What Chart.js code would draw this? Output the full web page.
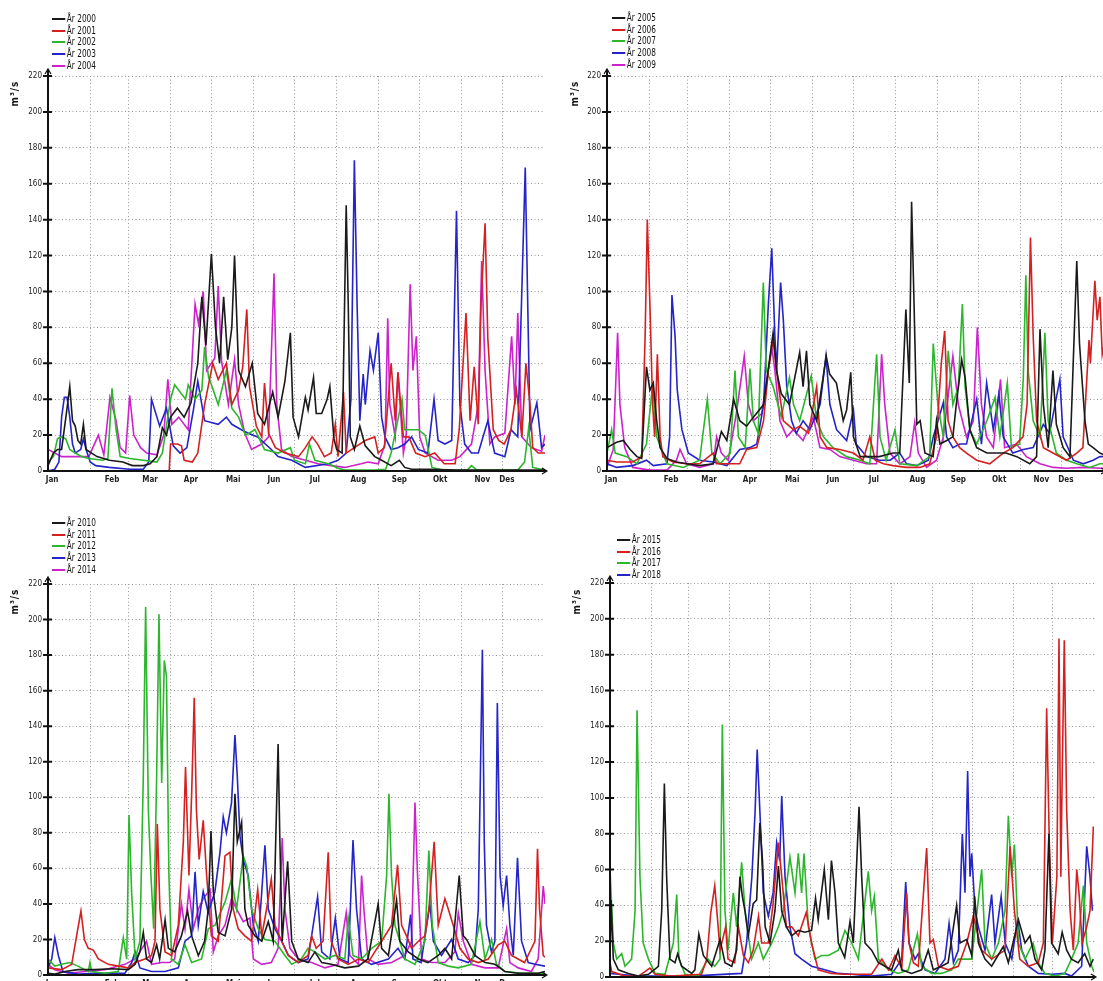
<!DOCTYPE html>
<html>
<head>
<meta charset="utf-8">
<script src="https://cdn.jsdelivr.net/npm/chart.js@4.4.0/dist/chart.umd.min.js"></script>
<style>
  body { margin: 0; width: 1103px; height: 981px; overflow: hidden; background: #fff; position: relative;
         font-family: "Liberation Sans Narrow", "DejaVu Sans Condensed", "Liberation Sans", sans-serif; }
  canvas { position: absolute; }
  .legend { position: absolute; font-size: 10.5px; color: #111; transform: scaleX(0.78); transform-origin: 0 0; }
  .legend div { height: 11.7px; line-height: 11.7px; white-space: nowrap; }
  .legend span { display: inline-block; width: 17px; height: 2px; vertical-align: middle; margin-right: 2px; }
  .unit { position: absolute; font-size: 10px; font-weight: bold; color: #111; transform: rotate(-90deg); white-space: nowrap; letter-spacing: 1px; }
</style>
</head>
<body>
<script>
// Månedsakse (dag i året)
const monthNames = ["Jan", "Feb", "Mar", "Apr", "Mai", "Jun", "Jul", "Aug", "Sep", "Okt", "Nov", "Des"];
const labelDays = [3, 47, 75, 105, 136, 166, 196, 228, 258, 288, 319, 337];
const monthStarts = [31, 59, 90, 120, 151, 181, 212, 243, 273, 304, 334];
const yTicks = [0, 20, 40, 60, 80, 100, 120, 140, 160, 180, 200, 220];

// Vannføring m3/s, [dag, verdi]
const flow2000 = [[0,3],[4,10],[7,12],[10,12],[14,35],[16,47],[18,28],[20,25],[22,17],[24,15],[26,26],[28,12],[32,10],[36,8],[45,6],[55,5],[62,3],[70,3],[75,4],[80,8],[84,24],[87,20],[90,30],[95,35],[100,30],[105,38],[110,60],[113,97],[116,70],[120,121],[123,80],[126,60],[129,97],[132,62],[135,80],[137,120],[140,56],[145,47],[150,60],[154,32],[159,26],[165,44],[169,30],[174,50],[178,77],[180,30],[184,19],[189,41],[191,34],[195,52],[197,32],[201,32],[205,40],[207,47],[210,18],[212,12],[216,10],[219,148],[220.5,93],[222,19],[225,12],[229,25],[233,14],[240,8],[245,6],[252,3],[258,6],[262,2],[267,1],[280,1],[300,0.5],[330,0.5],[365,0.5]];
const flow2001 = [[0,0],[30,0],[60,0],[89,0],[90,15],[95,15],[98,14],[100,6],[106,5],[110,10],[115,37],[121,60],[125,51],[131,60],[135,37],[140,45],[143,58],[146,90],[148,47],[153,25],[157,19],[159,49],[162,21],[167,13],[174,10],[184,8],[189,13],[194,19],[198,15],[203,8],[208,10],[211,26],[213,8],[217,44],[219,10],[225,13],[233,17],[240,19],[242.5,10],[247,13],[252,60],[255,28],[257,55],[261,19],[265,19],[270,10],[277,8],[284,10],[291,4],[299,4],[302,23],[307,88],[310,28],[313,58],[316,26],[318,93],[321,138],[323,74],[327,23],[331,17],[335,15],[340,23],[344,45],[348,19],[351,60],[354,37],[356,13],[360,10],[365,10]];
const flow2002 = [[0,5],[4,8],[7,18],[10,19],[13,18],[16,12],[20,10],[25,8],[30,7],[40,6],[44,7],[47,46],[50,23],[53,8],[60,7],[70,6],[80,5],[84,10],[88,30],[90,40],[93,48],[96,45],[101,40],[103,48],[108,40],[113,45],[115,69],[118,52],[120,48],[125,37],[131,56],[135,35],[140,30],[145,20],[152,23],[159,12],[169,10],[178,13],[181,6],[189,4],[192,15],[196,6],[206,4],[213,1.5],[218,0.5],[240,0.5],[248,1],[252,10],[260,40],[262,23],[272,23],[277,20],[282,2],[290,0.5],[308,0.5],[311,3],[315,0.5],[345,0.5],[350,5],[353,24],[356,2],[365,0.5]];
const flow2003 = [[0,0],[5,1],[8,5],[10,30],[12,41],[14,41],[16,30],[18,15],[20,10],[24,12],[26,18],[28,12],[31,5],[35,3],[45,2],[60,1],[70,1],[74,5],[76,40],[80,30],[82,25],[87,35],[92,14],[97,10],[102,13],[107,35],[110,50],[115,28],[125,26],[131,30],[135,26],[142,23],[147,21],[154,19],[164,12],[169,8],[179,6],[189,2],[206,4],[213,6],[219,10],[222.5,40],[225,173],[227,93],[229,28],[231.5,54],[233,37],[236.5,67],[239,56],[242.5,77],[245,30],[247.5,19],[252,12],[257,13],[262,15],[267,19],[272,12],[279,10],[283.5,40],[286.5,17],[291.5,15],[296.5,17],[300,145],[302.5,37],[306,15],[311,10],[316,10],[323,28],[328,10],[335.5,8],[340,23],[345,19],[350.5,169],[354,23],[359,38],[362.5,13],[365,15]];
const flow2004 = [[0,12],[5,10],[10,8],[20,8],[30,8],[37,20],[41,9],[45.5,41],[50,28],[53,13],[57,10],[60,42],[63,20],[68,13],[72.5,10],[80,9],[85,20],[88,51],[91,26],[96,30],[103,23],[108,93],[110.5,82],[114,100],[116.5,56],[122.5,63],[125,103],[127.5,61],[132.5,37],[137,62],[140,37],[144.5,21],[149.5,12],[157,15],[162,19],[166,110],[168,37],[171.5,12],[179,8],[189,6],[198.5,4],[208,3],[218,2],[230,4],[235,5],[242.5,4],[247.5,15],[249.5,85],[251,37],[255,19],[257,55],[261,10],[263,19],[266,104],[268,56],[270.5,75],[273,19],[277,10],[286.5,6],[296.5,6],[302.5,8],[311,15],[316,37],[318.5,117],[321,56],[324.5,15],[328,19],[335.5,21],[340.5,75],[343,37],[345,88],[348,19],[355,13],[362.5,11],[365,20]];

const flow2005 = [[0,13],[7,16],[12,17],[17,12],[22,8],[25.5,7],[29,58],[31.5,45],[34,49],[36.5,28],[39,13],[44,7],[51,5],[58.5,4],[68,3],[78,4],[84,22],[88,17],[93,40],[97.5,28],[102.5,25],[107.5,30],[115,37],[122,77],[124.5,56],[128,43],[134,37],[141.5,66],[144,47],[146.5,67],[149,37],[154,28],[161,64],[163.5,54],[168.5,49],[173.5,28],[176,34],[179,55],[181,19],[186,8],[200,8],[210,10],[215,10],[219.5,90],[222,49],[223.7,150],[225.5,93],[227.5,26],[230,28],[233.5,10],[239.5,8],[242,28],[244.5,15],[249.5,17],[254,19],[256.5,37],[260.5,62],[263,52],[266.5,23],[271.5,13],[279,10],[293,10],[301,8],[310.5,4],[315.5,8],[318,79],[320.5,37],[324,13],[327.5,56],[330,26],[335,13],[340,8],[345,117],[347,71],[351,28],[353.5,15],[357,13],[362,10],[365,9]];
const flow2006 = [[0,6],[7,5],[19,5],[25.5,8],[28,75],[29.6,140],[31.5,93],[33.5,37],[35,19],[37,65],[39,19],[41,8],[48.5,5],[58.5,4],[68,4],[78,10],[80.5,4],[97.5,4],[102.5,12],[110,13],[115,28],[118.5,56],[122,73],[126,47],[129.5,28],[137,23],[141.5,25],[148,21],[154,47],[156.5,19],[161.5,13],[171,12],[181,10],[188,6],[193,19],[197,6],[203,4],[210,3],[220,2],[230,2],[237,4],[242,19],[245.5,60],[248,78],[250.5,28],[254,19],[259,13],[264,10],[271.5,6],[281,4],[291,10],[298,13],[305.5,19],[308.5,37],[311,130],[313,75],[315.5,28],[320.5,13],[327.5,10],[337.5,6],[345,10],[349.5,13],[354,73],[355,60],[358.3,106],[360,84],[362,97],[363.7,65],[365,70]];
const flow2007 = [[0,10],[3.4,23],[6,10],[14.5,8],[22,4],[29,15],[33.5,48],[36.5,19],[44,4],[56,2],[68,6],[73.7,40],[77,10],[83,4],[90.5,10],[94,56],[96.5,19],[101.5,13],[105,57],[107.5,28],[111,21],[114.8,105],[117,56],[122,47],[128,30],[134,52],[137,37],[141.5,28],[150,53],[154,28],[159,19],[166,13],[176,8],[186,6],[193,4],[198,65],[200.5,19],[205,6],[211.5,23],[215,4],[227.5,3],[237,8],[239.6,71],[243,37],[247,19],[250.6,67],[254,37],[258,47],[261,93],[263,47],[266.5,23],[271.5,15],[279,28],[285,41],[288.5,19],[294,49],[297,13],[303,15],[305.7,51],[307.6,109],[309.3,56],[313,28],[318,19],[321.6,77],[324,28],[330,10],[337.5,6],[345,4],[354.5,2],[362,4],[365,4]];
const flow2008 = [[0,4],[7,2],[19,3],[29,6],[34,3],[44,4],[46,19],[47.7,98],[50,75],[51.6,45],[55,23],[59.7,10],[68,6],[78,5],[88,3],[97.5,12],[105,13],[110,15],[115,37],[118.5,93],[121,124],[123.3,75],[124.6,56],[127.5,105],[129.5,84],[132,47],[135.6,28],[139,21],[144,28],[149,23],[156.5,37],[160.8,64],[163.7,37],[168.6,23],[176,17],[181,34],[183,15],[190.6,8],[200,6],[208,6],[215,10],[220,4],[227.5,3],[236,6],[239.6,19],[247,38],[249.4,19],[254,13],[259,15],[264,15],[271.5,40],[275,15],[278.8,49],[283.7,23],[287.8,43],[291,19],[298,10],[305.7,12],[313,13],[320.4,26],[325,21],[332.6,51],[335,19],[342.5,6],[349.7,4],[357,6],[362,8],[365,8]];
const flow2009 = [[0,2],[4.6,12],[7.8,77],[9.5,37],[13,13],[19,2],[31.5,0.5],[44,0.5],[51,6],[53.6,12],[58.5,4],[68,2],[78,4],[80.5,19],[84,10],[89,6],[95,32],[100.8,64],[103.8,37],[107.4,28],[113.6,32],[117,49],[121,69],[123.3,56],[127,28],[132,19],[136.8,23],[144,17],[151.5,30],[156.4,13],[163.7,12],[171,8],[181,6],[190.6,4],[198,4],[201.7,65],[204,37],[207.8,10],[215,4],[222.5,8],[226,27],[228.6,10],[234.7,2],[242,6],[247,19],[254,64],[258,37],[264,19],[269,28],[272,80],[275,37],[278.8,19],[283.7,13],[289,51],[292,13],[300.8,15],[308,8],[318,4],[327.7,2],[337.5,1.5],[349.7,2],[362,1.5],[365,1.5]];

const flow2010 = [[0,1],[5,0.5],[12.5,2],[22,3],[34.5,3],[46.7,3.5],[59,3],[64,6],[67.5,13],[70,24],[72.4,9],[76,7],[79.8,17],[82,9],[86,31],[88.4,15],[93,13],[98,22],[102.5,36],[105.5,22],[110.4,11],[115,19],[117.7,37],[119.7,81],[121.4,47],[125,24],[130,22],[134.8,37],[137.3,102],[139,75],[142.2,86],[144.6,37],[147,28],[152,22],[157,19],[161.8,30],[165.4,19],[169,130],[170.3,75],[172,19],[176,64],[179,19],[183.8,9],[191,7],[196,13],[201,7],[208,6],[218,4],[228,5],[235,9],[242.5,40],[245,15],[250,11],[256,42],[258.4,19],[264.6,13],[272,9],[279,7],[286.6,11],[291.5,15],[296.4,9],[302,56],[305,22],[307.4,20],[313.5,11],[321,7],[328.2,6],[335.5,2],[345,1],[360,1],[365,2]];
const flow2011 = [[0,4],[10,3],[17.4,6],[21,22],[24.2,36],[26.7,20],[29.6,15],[33.3,14],[37,9],[44.3,6],[51.6,5],[59,4],[64,7],[71.2,9],[76,11],[78.6,19],[80.3,85],[82.2,37],[86,13],[90.8,11],[95.7,28],[99.4,75],[101,117],[103.5,56],[105.5,102],[107.4,156],[109,93],[111,65],[114,87],[116.5,56],[120,22],[125,19],[130,67],[133.6,69],[136,37],[139.7,26],[144.6,22],[149.5,19],[154,48],[157,22],[160.5,37],[164,54],[166.7,28],[171.6,19],[176.5,11],[183.8,7],[191,11],[193.6,22],[197,15],[202,19],[205.8,69],[208,19],[213,9],[220.5,6],[228,9],[235,7],[240,13],[245,19],[252.3,28],[256.7,62],[259.7,28],[263.3,22],[267,15],[272,19],[276.8,22],[279.7,37],[283.6,75],[286.6,28],[291.5,43],[294,37],[297.6,28],[302.5,15],[308.6,9],[316,7],[323.3,9],[330.6,17],[335.5,19],[340.4,11],[350,7],[357.6,19],[359.5,71],[361,37],[363.7,11],[365,10]];
const flow2012 = [[0,9],[5,5],[10,6],[16,7],[22,5],[29.6,2],[30.8,7],[32,2],[41.8,1],[51.6,2],[55.3,21],[57.8,9],[59.5,90],[61.4,47],[64,9],[67.5,19],[70,112],[71.7,207],[73.7,93],[75.6,56],[77.6,26],[79.8,112],[81.5,203],[83.5,108],[85.4,177],[87,168],[88.8,56],[90.8,9],[95.7,6],[100.6,17],[105.5,7],[112.8,9],[117.7,26],[122.6,28],[130,41],[134.8,54],[138.5,37],[143.4,67],[146,61],[149.5,37],[154.4,26],[159.3,20],[166.7,19],[174,11],[179,6],[186,9],[191,15],[196,13],[203.4,9],[210.7,11],[218,9],[220.5,32],[224,11],[230.3,9],[237.6,15],[245,19],[248.7,56],[250.4,102],[252.3,56],[254.8,28],[258.4,19],[262,9],[269.5,6],[276.8,19],[279.7,70],[282.2,28],[286.6,7],[294,5],[301.3,4],[311,6],[317.2,30],[320.9,9],[325.7,20],[329.4,6],[335.5,2],[347.8,1],[365,1]];
const flow2013 = [[0,4],[2.7,9],[5,21],[7.6,11],[11,2],[22,0.5],[34.5,1],[46.7,1],[56.5,1],[61.4,7],[64,13],[67.5,4],[76,2],[86,2],[95.7,4],[100.6,19],[105.5,22],[108,58],[110.4,28],[114,47],[117.7,35],[122.6,47],[126.3,69],[128.7,89],[131,80],[134.8,97],[137.3,135],[139,112],[141,78],[143.4,65],[147,56],[150.8,28],[154.4,19],[157,47],[159.3,73],[161.8,37],[166.7,26],[171.6,19],[176.5,11],[183.8,7],[191,9],[194.8,28],[198,44],[201,13],[207,9],[211,32],[214.4,9],[220.5,7],[224,76],[226.6,37],[230.3,9],[237.6,6],[250,9],[257,15],[262,9],[266.3,34],[268,9],[274,7],[280.5,40],[283,19],[289,11],[296.4,20],[301.3,9],[308.6,7],[313.5,11],[316,37],[319,183],[320.4,75],[322,28],[325.7,13],[328.2,19],[330,153],[332,56],[334.3,39],[336.8,56],[339.2,28],[341.7,11],[344.8,66],[347.8,19],[352.7,7],[357.6,6],[365,5]];
const flow2014 = [[0,6],[5,3],[15,1],[27,2],[41.8,3],[56.5,6],[64,9],[72.4,19],[76,6],[83.5,7],[89,7],[93,9],[98,40],[100.6,26],[103.5,48],[106.7,26],[110.4,37],[114,43],[119,48],[121.4,13],[125,22],[130,28],[134.8,43],[138.5,37],[143.4,30],[148.3,32],[150.8,9],[157,6],[164,7],[169,15],[172,77],[174,37],[177.7,15],[183.8,9],[193.6,7],[203.4,4],[213,6],[219,35],[221.7,11],[228,6],[230.3,56],[232,37],[235,9],[242.5,6],[252.3,7],[262,11],[267,19],[269.5,97],[271.4,56],[274.4,9],[281.7,7],[291.5,7],[298.8,13],[301.3,35],[305,19],[311,6],[321,4],[330.6,4],[336.8,26],[339.2,7],[345.3,4],[355,2],[360,9],[363.7,50],[365,40]];

const flow2015 = [[0,8],[0.8,43],[2.5,10],[6.3,4],[13.8,2],[21.4,0.5],[29,1.5],[36.5,6],[39,37],[41,108],[42.7,56],[45.2,10],[49,8],[51,13],[54,6],[61.6,2],[64,4],[67,24],[70.4,12],[76.7,6],[83,21],[86.7,8],[91.8,6],[95.5,15],[98,56],[99.8,45],[101.8,37],[104.3,23],[108,41],[110.6,43],[113,86],[115,65],[117,28],[120.7,19],[124.4,37],[127,62],[129.5,37],[133,28],[137,23],[142,26],[147,25],[152,26],[155,44],[157,32],[161.6,60],[164.7,32],[167,65],[169.7,47],[172.2,19],[177,11],[181,31],[183.5,19],[187.8,95],[189.8,56],[192.3,19],[197.3,15],[202.4,8],[207.4,6],[212.4,4],[217.4,15],[220,4],[227.5,2],[235,4],[240,15],[243.8,4],[250,6],[255,8],[261.4,40],[264,19],[269,21],[272.8,12],[275,45],[277.8,19],[282.8,10],[287.8,6],[296.6,17],[300.4,8],[308,32],[313,19],[316.7,23],[320.5,10],[325.5,4],[328,15],[331,80],[333,19],[338,13],[341,25],[344.4,15],[348,10],[353,8],[358,13],[362,6],[364.5,10]];
const flow2016 = [[0,8],[1.3,3],[11.3,0.5],[21.4,0.5],[26.4,3],[30,5],[34,1.5],[46.5,0.5],[69,1.5],[73,10],[76,36],[79,51],[83,15],[87.2,28],[89,10],[94,8],[96.8,28],[100.6,12],[104.3,8],[108,15],[112,34],[114.4,19],[119.4,19],[123,41],[127,75],[129.5,56],[133,28],[137,28],[142,23],[148,36],[152,19],[157,4],[167,2],[177,1.5],[197.3,1.5],[205,10],[210,4],[215,12],[220,5],[223.7,47],[225.5,19],[228.8,8],[232.5,6],[238.8,72],[241.3,19],[243.8,21],[247.6,6],[255,4],[262.7,6],[269,19],[274,34],[280.3,15],[287.8,10],[297.9,15],[301.7,73],[305,37],[309,10],[315.5,6],[323,8],[326.8,19],[329.3,150],[331.3,75],[333.6,19],[337,56],[338.6,189],[340,56],[341,112],[342.6,188],[344.4,93],[347,37],[349.4,15],[352,60],[353.7,47],[356,19],[359.5,28],[362,37],[364.5,84]];
const flow2017 = [[0,60],[2.5,19],[5,10],[8.8,13],[11.3,6],[16.3,10],[18.9,37],[20.4,149],[22.6,56],[25,19],[29,10],[34,2],[41.5,1.5],[47.8,19],[50.3,46],[52,10],[56.6,1.5],[66.6,0.5],[74,10],[79,6],[83,10],[84.7,141],[86.7,37],[89,15],[93,47],[95.5,28],[99.3,64],[101.8,37],[106.8,10],[111.9,19],[115.6,10],[122,19],[127,28],[130.7,37],[135.7,67],[139.5,47],[142,69],[144.5,47],[146.3,69],[149.6,28],[154.6,10],[159.6,12],[164.7,12],[172.2,15],[177.2,26],[182.3,19],[187.3,10],[194.8,59],[197.3,37],[199.3,45],[202.4,10],[210,4],[217.4,2],[225,4],[231.8,24],[235,6],[242.6,2],[250,2],[257.7,4],[262.7,10],[272.8,10],[280.3,60],[282.8,19],[287.8,10],[292.9,19],[297.9,37],[300.4,90],[302.9,56],[305,74],[308,19],[313,10],[319,19],[323,8],[328,2],[335.6,0.5],[343,2],[348,10],[353,19],[357,51],[359.5,19],[363.3,6],[365,3]];
const flow2018 = [[0,2],[6.3,1.5],[21.4,0.5],[60,0.5],[99.3,2],[103,19],[107,56],[109.4,92],[111,127],[113,93],[115.6,47],[119.4,34],[123,47],[125.7,75],[128,65],[129.5,101],[132,56],[135.7,28],[139.5,13],[144.5,10],[152,6],[162,4],[172,2],[182,1.5],[197.3,0.5],[212.4,1.5],[220,10],[223,53],[225.5,19],[230,10],[232.5,13],[237.6,4],[245,2],[252.6,10],[255.7,30],[259,8],[262.7,15],[265.7,80],[267.7,47],[269.7,115],[271.5,56],[272.8,69],[275.3,37],[277.8,28],[282.8,15],[287.8,46],[290.3,19],[295,45],[298,19],[303,10],[307.4,32],[310.5,15],[315.5,6],[323,2],[333,1.5],[343,2],[348,0.5],[355.7,6],[359.5,73],[362,56],[363.8,37]];

const colors = ["#1a1a1a", "#d42020", "#2cb62c", "#2424c8", "#cc22cc"];

// panel-plassering på siden
const panels = [
    { years: [2000, 2001, 2002, 2003, 2004], series: [flow2000, flow2001, flow2002, flow2003, flow2004],
      left: 0, top: 0, w: 560, h: 505, axisX: 48, right: 545, plotTop: 76, plotBottom: 471,
      legend: [52, 13], unit: [15, 93] },
    { years: [2005, 2006, 2007, 2008, 2009], series: [flow2005, flow2006, flow2007, flow2008, flow2009],
      left: 559, top: 0, w: 560, h: 505, axisX: 607, right: 1104, plotTop: 76, plotBottom: 471,
      legend: [612, 12], unit: [575, 93] },
    { years: [2010, 2011, 2012, 2013, 2014], series: [flow2010, flow2011, flow2012, flow2013, flow2014],
      left: 0, top: 505, w: 560, h: 505, axisX: 48, right: 545, plotTop: 584, plotBottom: 975,
      legend: [52, 517], unit: [15, 601] },
    { years: [2015, 2016, 2017, 2018], series: [flow2015, flow2016, flow2017, flow2018],
      left: 562, top: 505, w: 541, h: 505, axisX: 610, right: 1094, plotTop: 583, plotBottom: 977,
      legend: [617, 534], unit: [577, 601] },
];

const xTicks = monthStarts.concat(labelDays).sort((a, b) => a - b);

const axisDecor = {
    id: "axisDecor",
    afterDatasetsDraw(chart) {
        const { ctx, chartArea: a, scales: { y } } = chart;
        ctx.save();
        ctx.strokeStyle = "#111";
        ctx.lineWidth = 2;
        ctx.beginPath();
        ctx.moveTo(a.left, a.bottom);
        ctx.lineTo(a.left, a.top - 6);
        ctx.moveTo(a.left - 1, a.bottom);
        ctx.lineTo(a.right + 1, a.bottom);
        yTicks.forEach((v) => {
            const py = y.getPixelForValue(v);
            ctx.moveTo(a.left - 5, py);
            ctx.lineTo(a.left + 4, py);
        });
        ctx.stroke();
        ctx.lineWidth = 1.2;
        ctx.beginPath();
        ctx.moveTo(a.left - 3, a.top - 2);
        ctx.lineTo(a.left, a.top - 7);
        ctx.lineTo(a.left + 3, a.top - 2);
        ctx.moveTo(a.right - 3, a.bottom - 3);
        ctx.lineTo(a.right + 2, a.bottom);
        ctx.lineTo(a.right - 3, a.bottom + 3);
        ctx.stroke();
        ctx.restore();
    },
};

panels.forEach((p) => {
    const canvas = document.createElement("canvas");
    canvas.width = p.w;
    canvas.height = p.h;
    canvas.style.left = p.left + "px";
    canvas.style.top = p.top + "px";
    document.body.appendChild(canvas);

    const xHeight = 29;

    new Chart(canvas, {
        type: "line",
        data: {
            datasets: p.years.map((yr, i) => ({
                label: "År " + yr,
                data: p.series[i].map((d) => ({ x: d[0], y: d[1] })),
                borderColor: colors[i],
                borderWidth: 1.6,
                pointRadius: 0,
                tension: 0,
                fill: false,
            })),
        },
        options: {
            responsive: false,
            animation: false,
            layout: {
                padding: {
                    left: 0,
                    top: p.plotTop - p.top,
                    right: p.left + p.w - p.right,
                    bottom: p.top + p.h - p.plotBottom - xHeight,
                },
            },
            plugins: { legend: { display: false }, tooltip: { enabled: false } },
            scales: {
                x: {
                    type: "linear",
                    min: 0,
                    max: 365,
                    afterBuildTicks: (s) => { s.ticks = xTicks.map((v) => ({ value: v })); },
                    afterFit: (s) => { s.height = xHeight; },
                    ticks: {
                        autoSkip: false,
                        maxRotation: 0,
                        padding: 4,
                        color: "#222",
                        font: { size: 8, weight: "bold", family: "'Liberation Sans Narrow', 'DejaVu Sans Condensed', sans-serif" },
                        callback: (v) => {
                            const i = labelDays.indexOf(v);
                            return i >= 0 ? monthNames[i] : "";
                        },
                    },
                    grid: {
                        drawTicks: false,
                        lineWidth: 1,
                        color: (c) => (c.tick && monthStarts.includes(c.tick.value) ? "#9a9a9a" : "rgba(0,0,0,0)"),
                    },
                    border: { display: false, dash: [1, 2.5] },
                },
                y: {
                    min: 0,
                    max: 220,
                    afterBuildTicks: (s) => { s.ticks = yTicks.map((v) => ({ value: v })); },
                    afterFit: (s) => { s.width = p.axisX - p.left; },
                    ticks: {
                        padding: 6,
                        color: "#222",
                        font: { size: 8, family: "'Liberation Sans Narrow', 'DejaVu Sans Condensed', sans-serif" },
                    },
                    grid: {
                        drawTicks: false,
                        lineWidth: 1,
                        color: (c) => (c.tick && c.tick.value !== 0 ? "#9a9a9a" : "rgba(0,0,0,0)"),
                    },
                    border: { display: false, dash: [1, 2.5] },
                },
            },
        },
        plugins: [axisDecor],
    });

    // forklaring
    const lg = document.createElement("div");
    lg.className = "legend";
    lg.style.left = p.legend[0] + "px";
    lg.style.top = p.legend[1] + "px";
    p.years.forEach((yr, i) => {
        const row = document.createElement("div");
        const sw = document.createElement("span");
        sw.style.background = colors[i];
        row.appendChild(sw);
        row.appendChild(document.createTextNode("År " + yr));
        lg.appendChild(row);
    });
    document.body.appendChild(lg);

    // enhet
    const u = document.createElement("div");
    u.className = "unit";
    u.textContent = "m³/s";
    document.body.appendChild(u);
    u.style.left = (p.unit[0] - u.offsetWidth / 2) + "px";
    u.style.top = (p.unit[1] - u.offsetHeight / 2) + "px";
});
</script>
</body>
</html>
